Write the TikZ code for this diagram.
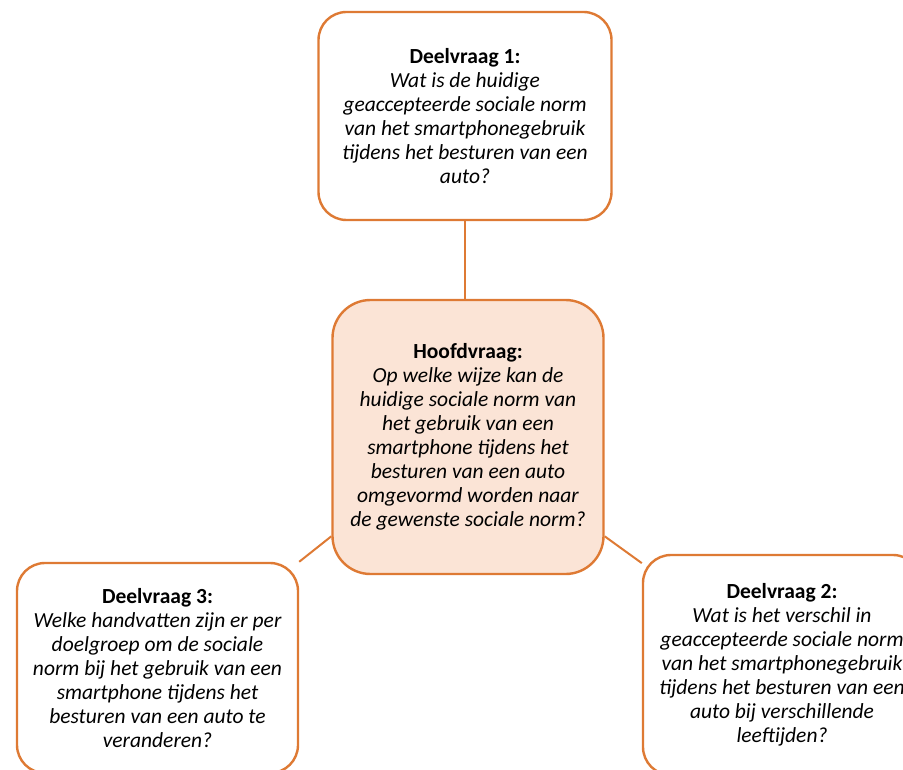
\documentclass[tikz,border=0pt]{standalone}
\usepackage{fontspec}
\setmainfont{Carlito}
\usetikzlibrary{positioning}
\definecolor{randoranje}{RGB}{222, 122, 52}
\definecolor{vulperzik}{RGB}{251, 228, 214}
\newcommand{\kopje}[1]{{\normalfont\bfseries #1}}
\tikzset{
  vraag/.style = {rectangle, rounded corners=28pt, draw=randoranje, line width=2.4pt, fill=white, align=center, font=\fontsize{21.5}{24}\selectfont\itshape},
  lijn/.style  = {draw=randoranje, line width=2pt},
}

\begin{document}
\begin{tikzpicture}[x=1pt, y=-1pt]

\useasboundingbox (0,0) rectangle (903,770);
\clip (0,0) rectangle (903,770);

% hoofdvraag in het midden
\node[vraag, fill=vulperzik, rounded corners=38pt, minimum width=271pt, minimum height=274pt] (hoofd) at (468, 437) {\kopje{Hoofdvraag:}\\Op welke wijze kan de\\huidige sociale norm van\\het gebruik van een\\smartphone tijdens het\\besturen van een auto\\omgevormd worden naar\\de gewenste sociale norm?};

% deelvragen
\node[vraag, minimum width=293pt, minimum height=208pt] (dv1) at (465, 116) {\kopje{Deelvraag 1:}\\Wat is de huidige\\geaccepteerde sociale norm\\van het smartphonegebruik\\tijdens het besturen van een\\auto?};
\node[vraag, minimum width=281pt, minimum height=210pt] (dv3) at (157.5, 668) {\kopje{Deelvraag 3:}\\Welke handvatten zijn er per\\doelgroep om de sociale\\norm bij het gebruik van een\\smartphone tijdens het\\besturen van een auto te\\veranderen?};
\node[vraag, minimum width=278pt, minimum height=220pt] (dv2) at (782, 665) {\kopje{Deelvraag 2:}\\Wat is het verschil in\\geaccepteerde sociale norm\\van het smartphonegebruik\\tijdens het besturen van een\\auto bij verschillende\\leeftijden?};

% verbindingen
\draw[lijn] (dv1.south) -- (dv1.south |- hoofd.north);
\draw[lijn] (hoofd.216) -- (dv3.north east);
\draw[lijn] (hoofd.324) -- (dv2.144);

\end{tikzpicture}
\end{document}
